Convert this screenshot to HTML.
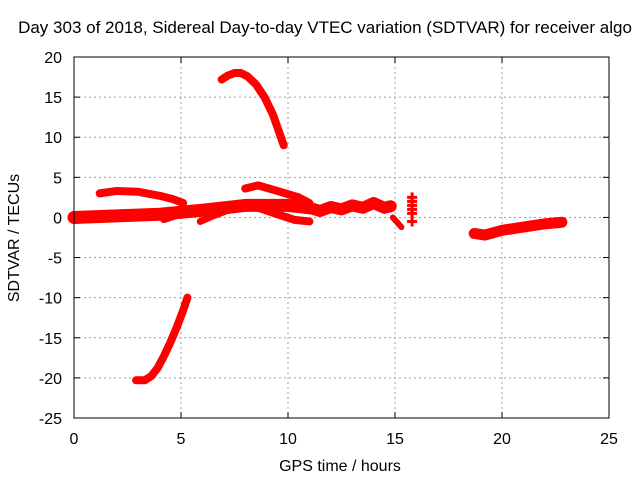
<!DOCTYPE html>
<html><head><meta charset="utf-8"><style>
body{margin:0;background:#fff;}
svg text{font-family:"Liberation Sans",sans-serif;font-size:16px;fill:#000;}
</style></head><body>
<svg id="chart" width="640" height="480" xmlns="http://www.w3.org/2000/svg">
<rect width="640" height="480" fill="#fff"/>
<text x="325" y="33" text-anchor="middle" style="font-size:17px">Day 303 of 2018, Sidereal Day-to-day VTEC variation (SDTVAR) for receiver algo</text>
<g id="grid"></g>
<g id="ticks"></g>
<g id="series"></g>
<rect x="74" y="57" width="535" height="361" fill="none" stroke="#000" stroke-width="1"/>
<text x="340" y="471" text-anchor="middle">GPS time / hours</text>
<text transform="translate(19,238) rotate(-90)" text-anchor="middle">SDTVAR / TECUs</text>
</svg>
<script>
const xTicks=[0,5,10,15,20,25];
const yTicks=[20,15,10,5,0,-5,-10,-15,-20,-25];
// tracks: [hours, TECU] pairs
const trackTopArc=[[6.9,17.2],[7.2,17.7],[7.5,18],[7.8,18],[8.1,17.6],[8.5,16.6],[8.9,15],[9.3,12.8],[9.8,9]];
const trackBottomArc=[[2.9,-20.3],[3.3,-20.3],[3.6,-19.8],[3.9,-18.8],[4.2,-17.3],[4.5,-15.6],[4.8,-13.7],[5.1,-11.6],[5.3,-10]];
const trackUpper=[[1.2,3],[2,3.3],[3,3.2],[4,2.7],[4.6,2.3],[5.1,1.8]];
const trackMain=[[0,0],[2,0.2],[4,0.4],[6,0.9],[8,1.5],[10,1.5],[11,1.2]];
const trackMid=[[8,3.6],[8.6,4],[9.5,3.3],[10.5,2.5],[11,1.8]];
const trackLowDip=[[4.2,-0.2],[5,0.5],[6,0.8]];
const trackDip2=[[5.9,-0.5],[6.5,0.2],[7.2,0.9]];
const trackDip3=[[8.5,1.3],[9.5,0.4],[10.3,-0.3],[11,-0.5]];
const trackScatter=[[11,1.2],[11.5,0.8],[12,1.3],[12.5,1],[13,1.5],[13.5,1.2],[14,1.8],[14.5,1.2],[14.8,1.4]];
const trackTail=[[14.9,0],[15.3,-1.2]];
const crossCol=[[15.8,2.5],[15.8,2],[15.8,1.5],[15.8,1],[15.8,0.5],[15.8,-0.5]];
const trackRight=[[18.7,-2],[19.2,-2.2],[20,-1.6],[21,-1.2],[22,-0.8],[22.8,-0.6]];
const X=v=>74+v*535/25, Y=v=>57+(20-v)*361/45;
const NS="http://www.w3.org/2000/svg";
const g=document.getElementById('grid'),t=document.getElementById('ticks'),s=document.getElementById('series');
function mk(tag,attrs,p){const e=document.createElementNS(NS,tag);for(const k in attrs)e.setAttribute(k,attrs[k]);p.appendChild(e);return e;}
xTicks.forEach(v=>{
 if(v>0&&v<25){const l=mk('line',{x1:X(v),x2:X(v),y1:57,y2:418,stroke:'#a0a0a0','stroke-dasharray':'2,3'},g);
 
 }
 const tx=mk('text',{x:X(v),y:444,'text-anchor':'middle'},t);tx.textContent=v;
 
 
 mk('line',{x1:X(v),x2:X(v),y1:418,y2:412,stroke:'#000'},t);
 mk('line',{x1:X(v),x2:X(v),y1:57,y2:63,stroke:'#000'},t);
});
yTicks.forEach(v=>{
 if(v<20&&v>-25){const l=mk('line',{x1:74,x2:609,y1:Y(v),y2:Y(v),stroke:'#a0a0a0','stroke-dasharray':'2,3'},g);
 
 }
 const tx=mk('text',{x:62,y:Y(v)+6,'text-anchor':'end'},t);tx.textContent=v;
 
 
 mk('line',{x1:74,x2:80,y1:Y(v),y2:Y(v),stroke:'#000'},t);
 mk('line',{x1:609,x2:603,y1:Y(v),y2:Y(v),stroke:'#000'},t);
});
function track(d,w,name){
 const p=mk('polyline',{points:d.map(q=>X(q[0])+','+Y(q[1])).join(' '),fill:'none',stroke:'#f00','stroke-width':w,'stroke-linecap':'round','stroke-linejoin':'round'},s);
 
 
}
track(trackTopArc,8,'track-top-arc');
track(trackBottomArc,8,'track-bottom-arc');
track(trackUpper,8,'track-upper');
track(trackMain,13,'track-main');
track(trackMid,8,'track-mid');
track(trackLowDip,8,'track-low-dip');
track(trackDip2,7,'track-dip-2');
track(trackDip3,8,'track-dip-3');
track(trackScatter,12,'track-scatter');
track(trackTail,6,'track-tail');
track(trackRight,11,'track-right');
crossCol.forEach(q=>{
 const c=mk('path',{d:`M${X(q[0])-5},${Y(q[1])}h10M${X(q[0])},${Y(q[1])-5}v10`,stroke:'#f00','stroke-width':3},s);
 
 
});
</script>
</body></html>
